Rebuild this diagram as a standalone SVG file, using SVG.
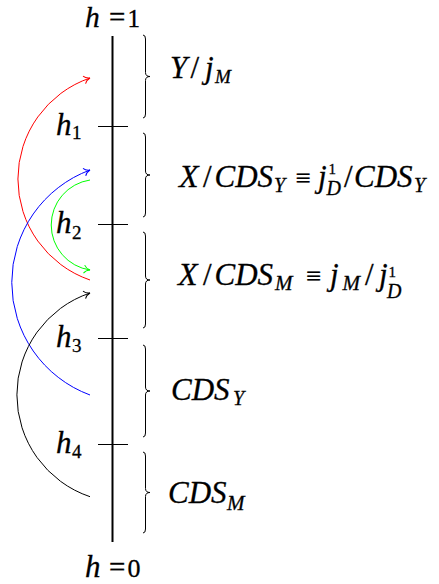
<svg xmlns="http://www.w3.org/2000/svg" width="439" height="584" viewBox="0 0 439 584">
<style>
text{font-family:"Liberation Serif","Times New Roman",serif;fill:#000;stroke:#000;stroke-width:0.3px}
.i{font-style:italic;font-size:31px}
.h{font-style:italic;font-size:31px}
.x{font-style:italic;font-size:32px}
.s{font-style:italic;font-size:20px}
.sm{font-style:italic;font-size:21px}
.d{font-size:19px}
.sup{font-size:15px}
.sl{font-size:31px}
.eq{font-size:29px}
.id{font-size:27px}
.n{font-size:25px}
.br{fill:none;stroke:#000;stroke-width:1}
.tick{stroke:#000;stroke-width:1}
.axis{stroke:#000;stroke-width:2}
.arc{fill:none;stroke-width:1}
</style>
<defs>
<marker id="aR" viewBox="-8 -5 10 10" refX="0" refY="0" markerWidth="10" markerHeight="10" markerUnits="userSpaceOnUse" orient="auto"><path d="M-6,-4 C-4.5,-1.5 -1.5,-0.3 0,0 C-1.5,0.3 -4.5,1.5 -6,4" fill="none" stroke="#ff0000" stroke-width="1"/></marker>
<marker id="aG" viewBox="-8 -5 10 10" refX="0" refY="0" markerWidth="10" markerHeight="10" markerUnits="userSpaceOnUse" orient="auto"><path d="M-6,-4 C-4.5,-1.5 -1.5,-0.3 0,0 C-1.5,0.3 -4.5,1.5 -6,4" fill="none" stroke="#00ff00" stroke-width="1"/></marker>
<marker id="aB" viewBox="-8 -5 10 10" refX="0" refY="0" markerWidth="10" markerHeight="10" markerUnits="userSpaceOnUse" orient="auto"><path d="M-6,-4 C-4.5,-1.5 -1.5,-0.3 0,0 C-1.5,0.3 -4.5,1.5 -6,4" fill="none" stroke="#0000ff" stroke-width="1"/></marker>
<marker id="aK" viewBox="-8 -5 10 10" refX="0" refY="0" markerWidth="10" markerHeight="10" markerUnits="userSpaceOnUse" orient="auto"><path d="M-6,-4 C-4.5,-1.5 -1.5,-0.3 0,0 C-1.5,0.3 -4.5,1.5 -6,4" fill="none" stroke="#000000" stroke-width="1"/></marker>
</defs>

<g id="axis">
<line class="axis" x1="112.5" y1="36" x2="112.5" y2="542"/>
<text y="26.5"><tspan class="h" x="85" style="font-size:29.5px">h</tspan><tspan class="eq" x="109">=</tspan><tspan class="n" x="127.5">1</tspan></text>
<text y="577"><tspan class="h" x="85">h</tspan><tspan class="eq" x="109">=</tspan><tspan class="n" x="127.5" style="font-size:26px">0</tspan></text>
</g>

<g id="tick-h1">
<line class="tick" x1="98" y1="126.5" x2="128" y2="126.5"/>
<text><tspan class="h" x="56" y="135">h</tspan><tspan class="d" x="72" y="139">1</tspan></text>
</g>
<g id="tick-h2">
<line class="tick" x1="98" y1="224.5" x2="128" y2="224.5"/>
<text><tspan class="h" x="56" y="233">h</tspan><tspan class="d" x="72" y="238.5">2</tspan></text>
</g>
<g id="tick-h3">
<line class="tick" x1="98" y1="338.5" x2="128" y2="338.5"/>
<text><tspan class="h" x="56" y="347">h</tspan><tspan class="d" x="72" y="352">3</tspan></text>
</g>
<g id="tick-h4">
<line class="tick" x1="98" y1="444.5" x2="128" y2="444.5"/>
<text><tspan class="h" x="56" y="453">h</tspan><tspan class="d" x="72" y="458">4</tspan></text>
</g>

<g id="seg1">
<path class="br" d="M143,35 Q145.5,35 145.5,39 L145.5,72.5 Q145.5,76.5 150,76.5 Q145.5,76.5 145.5,80.5 L145.5,114 Q145.5,118 143,118"/>
<text><tspan class="i" x="170" y="78">Y</tspan><tspan class="sl" x="190.5" y="78">/</tspan><tspan class="i" x="205" y="78">j</tspan><tspan class="s" x="215" y="82.5" style="font-size:19px">M</tspan></text>
</g>
<g id="seg2">
<path class="br" d="M143,133 Q145.5,133 145.5,137 L145.5,171 Q145.5,175 150,175 Q145.5,175 145.5,179 L145.5,213 Q145.5,217 143,217"/>
<text><tspan class="x" x="179" y="187">X</tspan><tspan class="sl" x="203" y="187">/</tspan><tspan class="i" x="214.5" y="187">CDS</tspan><tspan class="s" x="274" y="191.5">Y</tspan><tspan class="id" x="295.5" y="187">≡</tspan><tspan class="i" x="318" y="187">j</tspan><tspan class="sup" x="328.5" y="173.5">1</tspan><tspan class="s" x="326.5" y="194.5">D</tspan><tspan class="sl" x="344" y="187">/</tspan><tspan class="i" x="354" y="187">CDS</tspan><tspan class="s" x="414" y="191.5">Y</tspan></text>
</g>
<g id="seg3">
<path class="br" d="M143,232 Q145.5,232 145.5,236 L145.5,276 Q145.5,280 150,280 Q145.5,280 145.5,284 L145.5,324 Q145.5,328 143,328"/>
<text><tspan class="x" x="178" y="285">X</tspan><tspan class="sl" x="203" y="285">/</tspan><tspan class="i" x="214.5" y="285">CDS</tspan><tspan class="sm" x="275" y="290">M</tspan><tspan class="id" x="306" y="285">≡</tspan><tspan class="i" x="330" y="285">j</tspan><tspan class="sm" x="342.5" y="290">M</tspan><tspan class="sl" x="365" y="285">/</tspan><tspan class="i" x="379" y="285">j</tspan><tspan class="sup" x="388.5" y="276.5">1</tspan><tspan class="s" x="387" y="297.5">D</tspan></text>
</g>
<g id="seg4">
<path class="br" d="M143,345 Q145.5,345 145.5,349 L145.5,387 Q145.5,391 150,391 Q145.5,391 145.5,395 L145.5,433 Q145.5,437 143,437"/>
<text><tspan class="i" x="171" y="400">CDS</tspan><tspan class="s" x="233" y="405">Y</tspan></text>
</g>
<g id="seg5">
<path class="br" d="M143,452 Q145.5,452 145.5,456 L145.5,488.5 Q145.5,492.5 150,492.5 Q145.5,492.5 145.5,496.5 L145.5,529 Q145.5,533 143,533"/>
<text><tspan class="i" x="168" y="502.5">CDS</tspan><tspan class="sm" x="227" y="509.5">M</tspan></text>
</g>

<g id="connectors">
<path class="arc" stroke="#ff0000" marker-end="url(#aR)" d="M90,280 A106.8,106.8 0 0 1 90,78"/>
<path class="arc" stroke="#00ff00" marker-end="url(#aG)" d="M90,180 A45.5,45.5 0 0 0 90,270"/>
<path class="arc" stroke="#0000ff" marker-end="url(#aB)" d="M90,395 A120,120 0 0 1 90,170"/>
<path class="arc" stroke="#000000" marker-end="url(#aK)" d="M90,496.7 A107.5,107.5 0 0 1 90,293"/>
</g>
</svg>
